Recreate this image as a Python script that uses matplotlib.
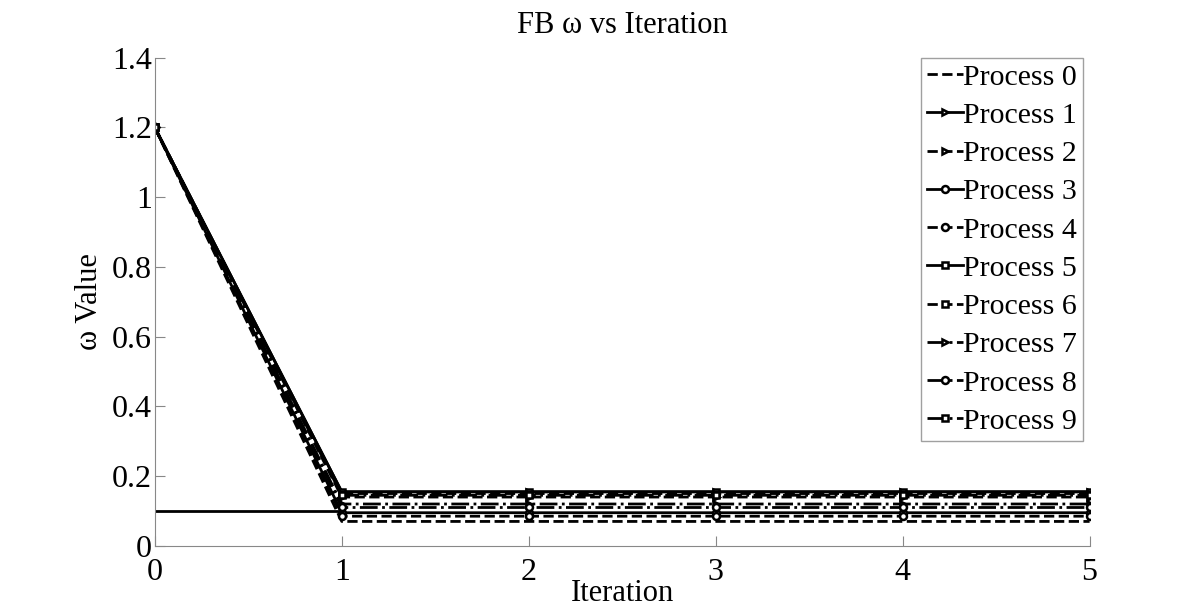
import numpy as np
import matplotlib
matplotlib.use('Agg')
from matplotlib import pyplot as plt
from matplotlib.ticker import FuncFormatter

# Data
iterations = [0, 1, 2, 3, 4, 5]
start_value = 1.2
names = ['Process %d' % i for i in range(10)]
final_values = [0.070, 0.155, 0.140, 0.095, 0.085, 0.155, 0.150, 0.120, 0.110, 0.145]
styles = ['--', '-', '--', '-', '--', '-', '--', '-.', '-.', '-.']
markers = [None, '>', '>', 'o', 'o', 's', 's', '>', 'o', 's']
ref_x = [0, 1]
ref_y = [0.1, 0.1]

plt.rcParams['font.family'] = ['Liberation Serif', 'DejaVu Serif']

fig = plt.figure()
fig.set_size_inches(12, 6.14)
ax = fig.add_axes([0.129, 0.111, 0.779, 0.795])

for i in range(10):
    y = [start_value] + [final_values[i]] * 5
    ax.plot(iterations, y, linestyle=styles[i], marker=markers[i], color='black',
            lw=2, ms=5, mfc='white', mew=1.8, label=names[i])
ax.plot(ref_x, ref_y, '-', color='black', lw=2)

ax.set_xlim(0, 5)
ax.set_ylim(0, 1.4)
ax.set_xticks(range(6))
ax.set_yticks(np.arange(0, 1.41, 0.2))
ax.yaxis.set_major_formatter(FuncFormatter(lambda v, p: '%g' % round(v, 1)))
ax.tick_params(direction='in', labelsize=23, length=7, color='#888888')
ax.tick_params(axis='x', pad=9)
ax.tick_params(axis='y', pad=2)
ax.spines['top'].set_visible(False)
ax.spines['right'].set_visible(False)
for s in ['left', 'bottom']:
    ax.spines[s].set_color('#888888')

ax.set_title('FB ω vs Iteration', fontsize=22, pad=18)
ax.set_xlabel('Iteration', fontsize=22, labelpad=-6)
ax.set_ylabel('ω Value', fontsize=22, labelpad=6)

leg = ax.legend(loc='upper right', fontsize=21.5, handlelength=1.2, handletextpad=0.0,
                borderaxespad=0.0, fancybox=False, labelspacing=0.38, borderpad=0.2,
                bbox_to_anchor=(0.993, 1.0))
leg.get_frame().set_edgecolor('#888888')
leg.get_frame().set_linewidth(1)

plt.savefig('out.png', dpi=100)
